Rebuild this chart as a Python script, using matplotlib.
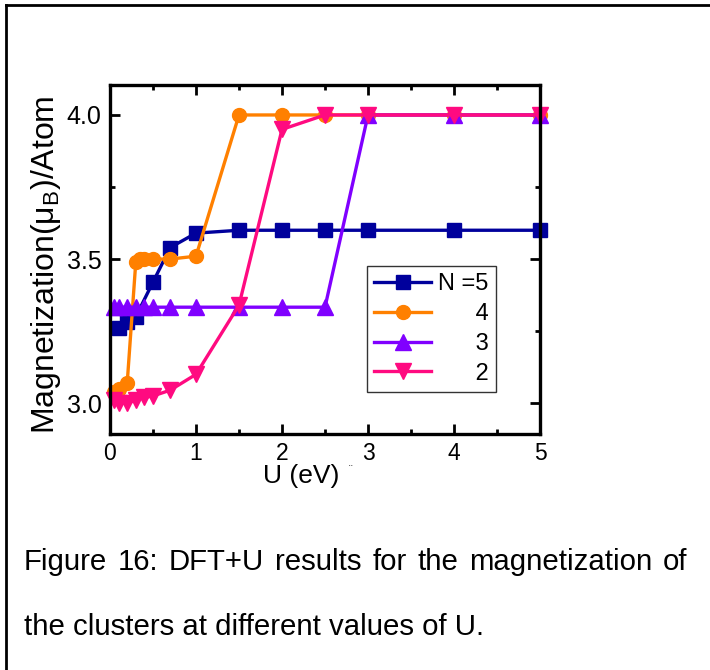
import matplotlib
matplotlib.use("Agg")
import matplotlib.pyplot as plt
from matplotlib.lines import Line2D

plt.rcParams['font.family'] = ['Liberation Sans', 'DejaVu Sans']
plt.rcParams['mathtext.fontset'] = 'custom'
plt.rcParams['mathtext.rm'] = 'Liberation Sans'

# magnetization per atom vs Hubbard U for each cluster size
u_n5 = [0.1, 0.2, 0.3, 0.5, 0.7, 1.0, 1.5, 2.0, 2.5, 3.0, 4.0, 5.0]
m_n5 = [3.26, 3.28, 3.30, 3.42, 3.54, 3.59, 3.60, 3.60, 3.60, 3.60, 3.60, 3.60]

u_n4 = [0.05, 0.1, 0.2, 0.3, 0.35, 0.4, 0.5, 0.7, 1.0, 1.5, 2.0, 2.5, 3.0, 4.0, 5.0]
m_n4 = [3.04, 3.05, 3.07, 3.49, 3.50, 3.50, 3.50, 3.50, 3.51, 4.0, 4.0, 4.0, 4.0, 4.0, 4.0]

u_n3 = [0.05, 0.1, 0.2, 0.3, 0.4, 0.5, 0.7, 1.0, 1.5, 2.0, 2.5, 3.0, 4.0, 5.0]
m_n3 = [3.333, 3.333, 3.333, 3.333, 3.333, 3.333, 3.333, 3.333, 3.333, 3.333, 3.333, 4.0, 4.0, 4.0]

u_n2 = [0.05, 0.1, 0.2, 0.3, 0.4, 0.5, 0.7, 1.0, 1.5, 2.0, 2.5, 3.0, 4.0, 5.0]
m_n2 = [3.01, 3.00, 3.00, 3.01, 3.02, 3.025, 3.045, 3.10, 3.34, 3.95, 4.0, 4.0, 4.0, 4.0]

# labels padded with figure/thin spaces so they line up on the right
labels = ['N =5', '\u2007\u2007 \u20094', '\u2007\u2007 \u20093', '\u2007\u2007 \u20092']
colors = ['#00009c', '#ff8000', '#8000ff', '#ff0a80']
markers = ['s', 'o', '^', 'v']
sizes = [10.5, 10, 11, 11]

caption1 = "Figure 16: DFT+U results for the magnetization of"
caption2 = "the clusters at different values of U."

fig = plt.figure(figsize=(7.1, 6.7), dpi=100)
ax = fig.add_axes([110 / 710, 1 - 434 / 670, 430 / 710, 349 / 670])

series = [(u_n5, m_n5), (u_n4, m_n4), (u_n3, m_n3), (u_n2, m_n2)]
for (u, m), lab, c, mk, ms in zip(series, labels, colors, markers, sizes):
    ax.plot(u, m, color=c, marker=mk, markersize=ms, linewidth=2.4,
            label=lab, clip_on=False)

ax.set_xlim(0, 5)
ax.set_ylim(2.893, 4.104)
ax.set_xticks([0, 1, 2, 3, 4, 5])
ax.set_xticks([0.5, 1.5, 2.5, 3.5, 4.5], minor=True)
ax.set_yticks([3.0, 3.5, 4.0])
ax.set_yticks([3.25, 3.75], minor=True)
ax.tick_params(which='both', direction='in', top=True, right=True, width=2, pad=6)
ax.tick_params(axis='x', labelsize=16.5)
ax.tick_params(axis='y', labelsize=18)
ax.tick_params(which='major', length=7)
ax.tick_params(which='minor', length=3.5)
for sp in ax.spines.values():
    sp.set_linewidth(2.4)

ax.set_xlabel('U (eV)', fontsize=19)
ax.xaxis.set_label_coords((301 - 110) / 430, -(464 - 434) / 349)
ax.xaxis.label.set_va('top')
ax.set_ylabel(r'Magnetization$\mathregular{(\mu_B)}$/Atom', fontsize=23)
ax.yaxis.set_label_coords(-(110 - 63) / 430, (434 - 265) / 349)

leg = ax.legend(loc='upper left', bbox_to_anchor=(0.598, 0.481),
                borderaxespad=0, fancybox=False, edgecolor='#333333',
                framealpha=1, fontsize=17, handlelength=2.4,
                labelspacing=0.33, borderpad=0.3, handletextpad=0.3)
leg.get_frame().set_linewidth(1.0)

fig.text(351 / 710, 1 - 470 / 670, '¨', fontsize=8, ha='center', va='center')

# page border
fig.add_artist(Line2D([6 / 710, 1.0], [1 - 5 / 670, 1 - 5 / 670],
                      transform=fig.transFigure, color='black', linewidth=2))
fig.add_artist(Line2D([6 / 710, 6 / 710], [0.0, 1 - 5 / 670],
                      transform=fig.transFigure, color='black', linewidth=2))

# justified first caption line
fig.canvas.draw()
renderer = fig.canvas.get_renderer()
cap_kw = dict(fontsize=21.2, va='center', color='black')
words = caption1.split()
x_left, x_right = 24, 687
y1 = 1 - 562 / 670
widths = []
for w in words:
    t = fig.text(0, 0, w, **cap_kw)
    widths.append(t.get_window_extent(renderer).width)
    t.remove()
gap = (x_right - x_left - sum(widths)) / (len(words) - 1)
x = x_left
for w, wd in zip(words, widths):
    fig.text(x / 710, y1, w, ha='left', **cap_kw)
    x += wd + gap

fig.text(x_left / 710, 1 - 627 / 670, caption2, ha='left', **cap_kw)

fig.savefig('out.png', dpi=100)
